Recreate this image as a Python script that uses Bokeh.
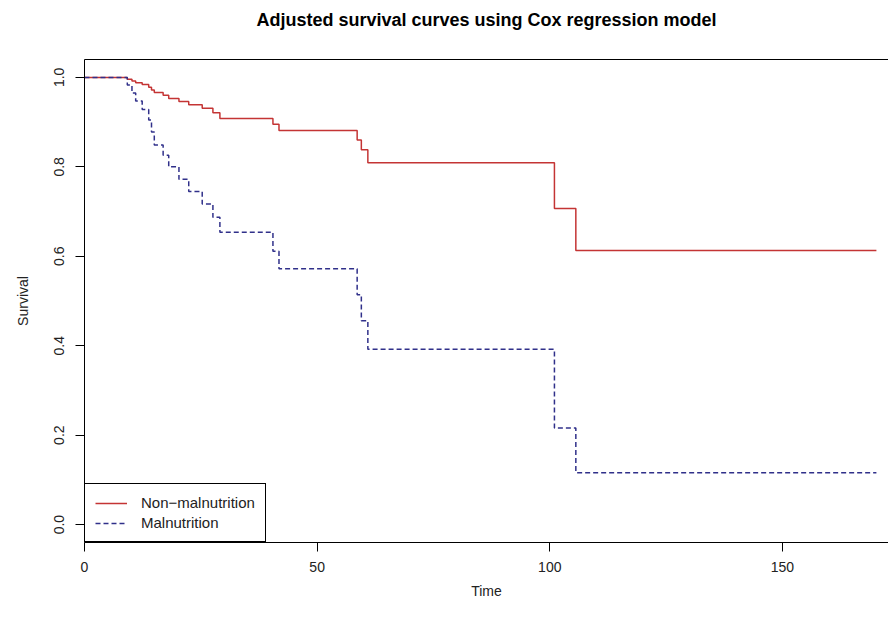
from bokeh.plotting import figure
from bokeh.models import Range1d, FixedTicker, PrintfTickFormatter, LinearAxis, Legend, LegendItem
from bokeh.embed import file_html
from bokeh.resources import INLINE

# ---- data ----
times = [0, 9.2, 10.2, 11.0, 12.4, 13.8, 14.4, 15.0, 16.9, 18.1, 20.3, 22.4, 25.3, 27.6,
         29.1, 40.5, 41.8, 58.6, 59.5, 60.9, 101.0, 105.6, 170.2]
surv_non = [1.0, 0.996, 0.992, 0.988, 0.984, 0.978, 0.972, 0.966, 0.960, 0.953, 0.946, 0.939,
            0.931, 0.921, 0.908, 0.895, 0.881, 0.860, 0.838, 0.809, 0.707, 0.613, 0.613]
surv_mal = [1.0, 0.983, 0.965, 0.947, 0.928, 0.905, 0.878, 0.849, 0.826, 0.800, 0.772, 0.745,
            0.717, 0.687, 0.654, 0.611, 0.572, 0.514, 0.456, 0.392, 0.216, 0.116, 0.116]
x_ticks = [0, 50, 100, 150]
y_ticks = [0.0, 0.2, 0.4, 0.6, 0.8, 1.0]
labels = ["Non\u2212malnutrition", "Malnutrition"]
title_text = "Adjusted survival curves using Cox regression model"

FONT = "Liberation Sans"

p = figure(width=888, height=601, x_range=Range1d(0, 172.8), y_range=Range1d(-0.04, 1.04),
           output_backend="svg", toolbar_location=None,
           min_border_left=84, min_border_right=0, min_border_top=59, min_border_bottom=58)
p.grid.visible = False
p.outline_line_color = None
p.background_fill_color = "white"
p.border_fill_color = "white"

for ax in (p.xaxis[0], p.yaxis[0]):
    ax.axis_line_color = "black"
    ax.major_tick_line_color = "black"
    ax.minor_tick_line_color = None
    ax.major_tick_out = 9
    ax.major_tick_in = 0
    ax.major_label_text_font = FONT
    ax.major_label_text_font_size = "14px"
    ax.major_label_text_color = "#222222"
    ax.axis_label_text_font = FONT
    ax.axis_label_text_font_size = "14px"
    ax.axis_label_text_font_style = "normal"
    ax.axis_label_text_color = "#222222"

p.xaxis.ticker = FixedTicker(ticks=x_ticks)
p.xaxis.axis_label = "Time"
p.xaxis.major_label_standoff = 10
p.xaxis.axis_label_standoff = 8

p.yaxis.ticker = FixedTicker(ticks=y_ticks)
p.yaxis.formatter = PrintfTickFormatter(format="%.1f")
p.yaxis.major_label_orientation = "vertical"
p.yaxis.axis_label = "Survival"
p.yaxis.major_label_standoff = 11
p.yaxis.axis_label_standoff = 21

# top border of the box, carrying the chart title
top = LinearAxis(ticker=FixedTicker(ticks=[]), major_tick_out=0, major_tick_in=0,
                 minor_tick_line_color=None, major_label_text_font_size="0px",
                 major_label_standoff=0, axis_line_color="black",
                 axis_label=title_text, axis_label_standoff=30,
                 axis_label_text_font=FONT, axis_label_text_font_style="bold",
                 axis_label_text_font_size="18px", axis_label_text_color="black")
p.add_layout(top, "above")

r1 = p.step(times, surv_non, mode="after", line_color="#c43434", line_width=1.5)
r2 = p.step(times, surv_mal, mode="after", line_color="#30308a", line_width=1.5,
            line_dash="5 3")

legend = Legend(items=[LegendItem(label=labels[0], renderers=[r1]),
                       LegendItem(label=labels[1], renderers=[r2])],
                location="bottom_left", margin=0, padding=10, spacing=3,
                glyph_width=32, glyph_height=16, label_height=16, label_standoff=14,
                border_line_color="black", border_line_width=1, border_line_alpha=1,
                label_text_font=FONT, label_text_font_size="15px",
                label_text_color="#222222", background_fill_color="white",
                background_fill_alpha=1)
p.add_layout(legend)

open("out.html", "w").write(file_html(p, INLINE))
